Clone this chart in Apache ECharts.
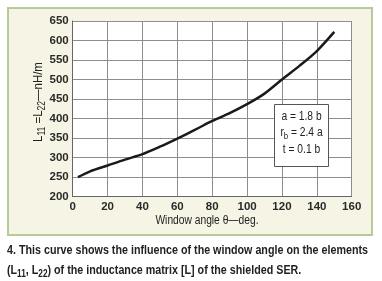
<!DOCTYPE html>
<html><head><meta charset="utf-8">
<script src="https://cdn.jsdelivr.net/npm/echarts@6/dist/echarts.min.js"></script>
<style>html,body{margin:0;padding:0;background:#fff}#c{width:382px;height:281px}</style>
</head><body><div id="c"></div>
<script>
var angles = [3, 10, 20, 30, 40, 50, 60, 70, 80, 90, 100, 110, 120, 130, 140, 150];
var inductance = [250, 265, 280, 295, 309, 328, 349, 371, 394, 414, 437, 464, 500, 535, 573, 622];
var xTicks = {min: 0, max: 160, interval: 20};
var yTicks = {min: 200, max: 650, interval: 50};
var noteLines = ['a = 1.8 b', '{t|r}{s|b}{t| = 2.4 a}', 't = 0.1 b'];
var captionLines = [
  '4. This curve shows the influence of the window angle on the elements',
  '{t|(L}{s|11}{t|, L}{s|22}{t|) of the inductance matrix [L] of the shielded SER.}'
];
var yName = '{t|L}{s|11}{t| =L}{s|22}{t|—nH/m}';
var FN = "'Liberation Sans',Arial,sans-serif";
var ctx = document.createElement('canvas').getContext('2d');
function tw(font, s) { ctx.font = font; return ctx.measureText(s).width; }
function subRich(size, subSize, weight, lh) {
  return {
    t: {fontFamily: FN, fontSize: size, fontWeight: weight, fill: '#222', lineHeight: lh, verticalAlign: 'middle'},
    s: {fontFamily: FN, fontSize: subSize, fontWeight: weight, fill: '#222', lineHeight: lh, verticalAlign: 'bottom'}
  };
}
// horizontal squeeze to mimic the condensed typeface
var capFont = 'bold 13px ' + FN;
var capScale = 361 / tw(capFont, captionLines[0]);
var noteScale = 0.82;
var chart = echarts.init(document.getElementById('c'), null, {renderer: 'canvas'});
var pts = angles.map(function (a, i) { return [a, inductance[i]]; });
chart.setOption({
  animation: false,
  backgroundColor: '#fff',
  graphic: [
    {type: 'rect', z: -10, shape: {x: 8, y: 8, width: 364, height: 227},
     style: {fill: '#f6f4e5', stroke: '#b5cc9a', lineWidth: 2}},
    {type: 'rect', z: 100, shape: {x: 274.5, y: 104.5, width: 54, height: 62},
     style: {fill: '#fff', stroke: '#555', lineWidth: 1}},
    {type: 'text', z: 101, x: 301.5, y: 117, scaleX: noteScale, style: {text: noteLines[0], font: '12.5px ' + FN, fill: '#222', align: 'center', verticalAlign: 'middle'}},
    {type: 'text', z: 101, x: 301.5, y: 133, scaleX: noteScale, style: {text: noteLines[1], fill: '#222', align: 'center', verticalAlign: 'middle',
      rich: subRich(12.5, 9.5, 'normal', 17)}},
    {type: 'text', z: 101, x: 301.5, y: 150, scaleX: noteScale, style: {text: noteLines[2], font: '12.5px ' + FN, fill: '#222', align: 'center', verticalAlign: 'middle'}},
    {type: 'text', x: 7, y: 250, scaleX: capScale, style: {text: captionLines[0], font: capFont, fill: '#222', verticalAlign: 'middle'}},
    {type: 'text', x: 7, y: 270, scaleX: capScale, style: {text: captionLines[1], fill: '#222', verticalAlign: 'middle',
      rich: subRich(13, 10, 'bold', 19)}},
    {type: 'text', x: 38, y: 102, rotation: Math.PI / 2, scaleX: 0.85, style: {text: yName, fill: '#222', align: 'center', verticalAlign: 'middle',
      rich: subRich(13.5, 10, 'normal', 19)}},
    {type: 'text', x: 207, y: 221, scaleX: 0.82, style: {text: 'Window angle θ—deg.', font: '12.5px ' + FN, fill: '#222', align: 'center', verticalAlign: 'middle'}}
  ],
  grid: {left: 72.7, right: 30.3, top: 21, bottom: 84.3, show: true, backgroundColor: '#fff', borderWidth: 0},
  xAxis: {
    type: 'value', min: xTicks.min, max: xTicks.max, interval: xTicks.interval,
    axisLine: {show: true, lineStyle: {color: '#666', width: 1}},
    axisTick: {show: false},
    axisLabel: {fontFamily: FN, fontSize: 11.5, fontWeight: 'bold', color: '#2a2a2a', margin: 4},
    splitLine: {show: true, lineStyle: {color: '#8e8e8e', width: 1}}
  },
  yAxis: {
    type: 'value', min: yTicks.min, max: yTicks.max, interval: yTicks.interval,
    axisLine: {show: true, lineStyle: {color: '#666', width: 1}},
    axisTick: {show: false},
    axisLabel: {fontFamily: FN, fontSize: 11.5, fontWeight: 'bold', color: '#2a2a2a', margin: 4},
    splitLine: {show: true, lineStyle: {color: '#8e8e8e', width: 1}}
  },
  series: [{
    type: 'line', data: pts, showSymbol: false, smooth: 0.3,
    lineStyle: {color: '#1a1a1a', width: 2.5}
  }]
});
</script></body></html>
